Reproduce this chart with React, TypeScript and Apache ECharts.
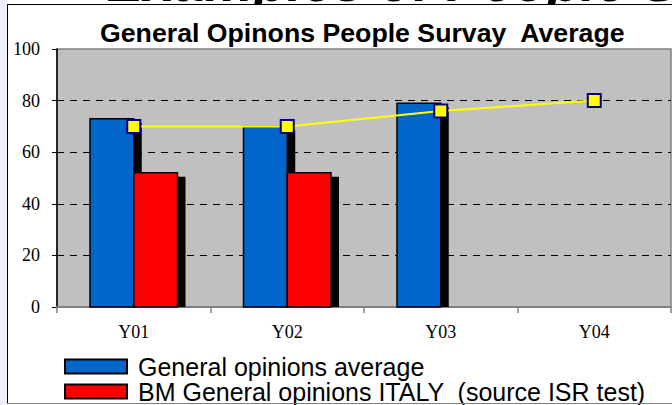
import React, { useEffect, useRef } from "react";
import * as echarts from "echarts";

const categories = ["Y01", "Y02", "Y03", "Y04"];
const avgValues: (number | null)[] = [73, 70, 79, null];
const italyValues: (number | null)[] = [52, 52, null, null];
const targetValues: number[] = [70, 70, 76, 80];
const yTicks = { min: 0, max: 100, interval: 20 };

const seriesNames = [
  "General opinions average",
  "BM General opinions ITALY  (source ISR test)",
  "Target",
];

const BLUE = "#0066cc";
const RED = "#ff0000";
const YELLOW = "#ffff00";

function toPairs(vals: (number | null)[]) {
  return vals
    .map((v, i) => (v == null ? null : [i, v]))
    .filter((p) => p !== null) as number[][];
}

function makeBarRender(color: string, side: "left" | "right") {
  return (params: any, api: any) => {
    const idx = api.value(0);
    const v = api.value(1);
    const top = api.coord([idx, v]);
    const base = api.coord([idx, 0]);
    const band = api.size([1, 0])[0];
    const w = band * 0.285;
    const x0 = side === "left" ? top[0] - w : top[0];
    const sx = 8;
    const sy = 4;
    return {
      type: "group",
      children: [
        {
          type: "rect",
          shape: { x: x0 + sx, y: top[1] + sy, width: w, height: Math.max(0, base[1] - top[1] - sy) },
          style: { fill: "#000000" },
        },
        {
          type: "rect",
          shape: { x: x0, y: top[1], width: w, height: base[1] - top[1] },
          style: { fill: color, stroke: "#000000", lineWidth: 1.5 },
        },
      ],
    };
  };
}

export default function App() {
  const ref = useRef<HTMLDivElement>(null);
  useEffect(() => {
    if (!ref.current) return;
    const chart = echarts.init(ref.current, undefined, { renderer: "svg" });
    const option: any = {
      animation: false,
      backgroundColor: "#ffffff",
      title: {
        text: "General Opinons People Survay  Average",
        left: 100,
        top: 20,
        padding: 0,
        textStyle: {
          fontFamily: "Liberation Sans",
          fontWeight: "bold",
          fontSize: 26.7,
          color: "#000000",
          lineHeight: 26,
        },
      },
      graphic: [
        { type: "rect", shape: { x: 0, y: 0, width: 7, height: 405 }, style: { fill: "#eef0f8" }, z: -10 },
        {
          type: "text",
          x: 107,
          y: 9,
          style: {
            text: "Examples of People Survey",
            fontFamily: "Liberation Sans",
            fontWeight: "bold",
            fontStyle: "italic",
            fontSize: 55,
            fill: "#000000",
            textVerticalAlign: "bottom",
          },
          z: 10,
        },
        { type: "rect", shape: { x: 8, y: 5, width: 664, height: 15 }, style: { fill: "#ffffff" }, z: 11 },
        { type: "line", shape: { x1: 7, y1: 4.5, x2: 672, y2: 4.5 }, style: { stroke: "#000000", lineWidth: 1 }, z: 12 },
        { type: "line", shape: { x1: 7.5, y1: 4, x2: 7.5, y2: 403 }, style: { stroke: "#000000", lineWidth: 1 }, z: 12 },
        { type: "line", shape: { x1: 7, y1: 403.5, x2: 672, y2: 403.5 }, style: { stroke: "#808080", lineWidth: 1 }, z: 12 },
      ],
      legend: {
        orient: "vertical",
        left: 64,
        top: 354,
        height: 120,
        padding: 0,
        itemGap: 0,
        itemWidth: 62,
        itemHeight: 14,
        itemStyle: { borderColor: "#000000", borderWidth: 2 },
        textStyle: {
          fontFamily: "Liberation Sans",
          fontSize: 25,
          lineHeight: 25,
          color: "#000000",
          padding: [0, 0, 0, 6],
        },
        data: [
          { name: seriesNames[0], icon: "rect" },
          { name: seriesNames[1], icon: "rect" },
          { name: seriesNames[2] },
        ],
      },
      grid: {
        left: 57,
        top: 49,
        right: 1,
        bottom: 98,
        show: true,
        backgroundColor: "#c0c0c0",
        borderColor: "#808080",
        borderWidth: 1.5,
      },
      xAxis: {
        type: "category",
        data: categories,
        boundaryGap: true,
        axisLine: { show: true, lineStyle: { color: "#808080", width: 2 } },
        axisTick: { show: true, length: 6, lineStyle: { color: "#808080", width: 1.5 } },
        axisLabel: {
          margin: 16,
          fontFamily: "Liberation Serif",
          fontSize: 18,
          color: "#000000",
        },
        splitLine: { show: false },
      },
      yAxis: {
        type: "value",
        min: yTicks.min,
        max: yTicks.max,
        interval: yTicks.interval,
        axisLine: { show: true, lineStyle: { color: "#000000", width: 1.5 } },
        axisTick: { show: true, length: 5, lineStyle: { color: "#000000", width: 1 } },
        axisLabel: {
          margin: 17,
          fontFamily: "Liberation Serif",
          fontSize: 18,
          color: "#000000",
        },
        splitLine: {
          show: true,
          showMinLine: false,
          showMaxLine: false,
          lineStyle: { color: "#000000", type: [7, 6], width: 1 },
        },
      },
      series: [
        {
          name: seriesNames[0],
          type: "custom",
          renderItem: makeBarRender(BLUE, "left"),
          data: toPairs(avgValues),
          encode: { x: 0, y: 1 },
          itemStyle: { color: BLUE },
          z: 2,
        },
        {
          name: seriesNames[1],
          type: "custom",
          renderItem: makeBarRender(RED, "right"),
          data: toPairs(italyValues),
          encode: { x: 0, y: 1 },
          itemStyle: { color: RED },
          z: 3,
        },
        {
          name: seriesNames[2],
          type: "line",
          data: targetValues,
          symbol: "rect",
          symbolSize: 13,
          lineStyle: { color: YELLOW, width: 2 },
          itemStyle: { color: YELLOW, borderColor: "#000080", borderWidth: 2 },
          z: 5,
        },
      ],
    };
    chart.setOption(option);
    return () => chart.dispose();
  }, []);
  return (
    <div
      ref={ref}
      style={{ position: "absolute", left: 0, top: 0, width: 672, height: 405 }}
    />
  );
}
